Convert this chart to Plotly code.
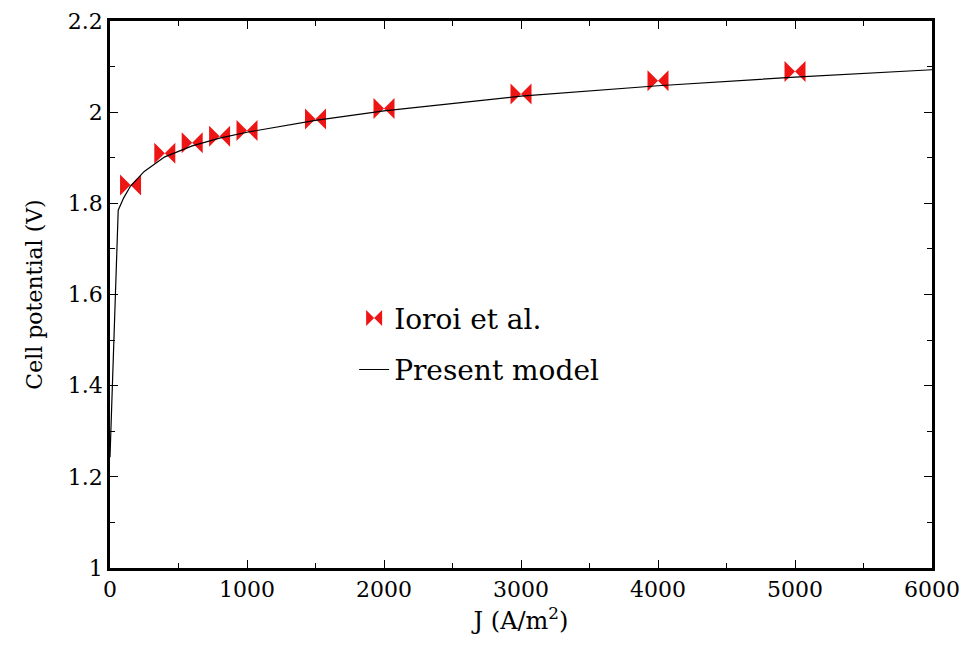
import plotly.graph_objects as go

# Measured cell potential (Ioroi et al.)
j_exp = [150, 400, 600, 800, 1000, 1500, 2000, 3000, 4000, 5000]
v_exp = [1.840, 1.910, 1.933, 1.947, 1.960, 1.985, 2.008, 2.040, 2.069, 2.089]

# Present model polarization curve
j_model = [0, 60, 100, 150, 250, 400, 600, 800, 1000, 1500, 2000, 3000, 4000, 5000, 6000]
v_model = [1.243, 1.785, 1.812, 1.838, 1.870, 1.902, 1.926, 1.943, 1.956, 1.982, 2.003,
           2.035, 2.058, 2.077, 2.093]

serif = "DejaVu Serif"

fig = go.Figure()
fig.add_trace(go.Scatter(
    x=j_exp, y=v_exp, mode="markers", name="Ioroi et al.",
    marker=dict(symbol="bowtie", size=21, color="#ee1515", line=dict(width=0)),
    legendgroup="a",
))
fig.add_trace(go.Scatter(
    x=j_model, y=v_model, mode="lines", name="Present model",
    line=dict(color="black", width=1.2), legendgroup="b",
))

axis_common = dict(
    showline=True, linecolor="black", linewidth=2.5, mirror="ticks",
    ticks="inside", ticklen=8, tickwidth=1.2, tickcolor="black",
    showgrid=False, zeroline=False, automargin=False,
    tickfont=dict(family=serif, size=22, color="black"),
)

fig.update_xaxes(
    range=[0, 6000], dtick=1000, tick0=0,
    minor=dict(ticks="inside", dtick=500, ticklen=5, tickwidth=1.2, tickcolor="black"),
    title=dict(text="J (A/m<sup>2</sup>)", font=dict(family=serif, size=24, color="black"), standoff=12),
    **axis_common,
)
fig.update_yaxes(
    range=[1, 2.2], dtick=0.2, tick0=1,
    minor=dict(ticks="inside", dtick=0.1, ticklen=5, tickwidth=1.2, tickcolor="black"),
    title=dict(text="Cell potential (V)", font=dict(family=serif, size=22, color="black"), standoff=20),
    **axis_common,
)

fig.update_layout(
    width=962, height=652,
    margin=dict(l=110, r=30, t=21, b=84),
    paper_bgcolor="white", plot_bgcolor="white",
    font=dict(family=serif, color="black"),
    showlegend=True,
    legend=dict(
        x=0.297, y=0.502, xanchor="left", yanchor="top",
        font=dict(family=serif, size=28, color="black"),
        bgcolor="rgba(0,0,0,0)", traceorder="grouped", tracegroupgap=12,
        itemsizing="trace",
    ),
)

fig.write_html("out.html")
